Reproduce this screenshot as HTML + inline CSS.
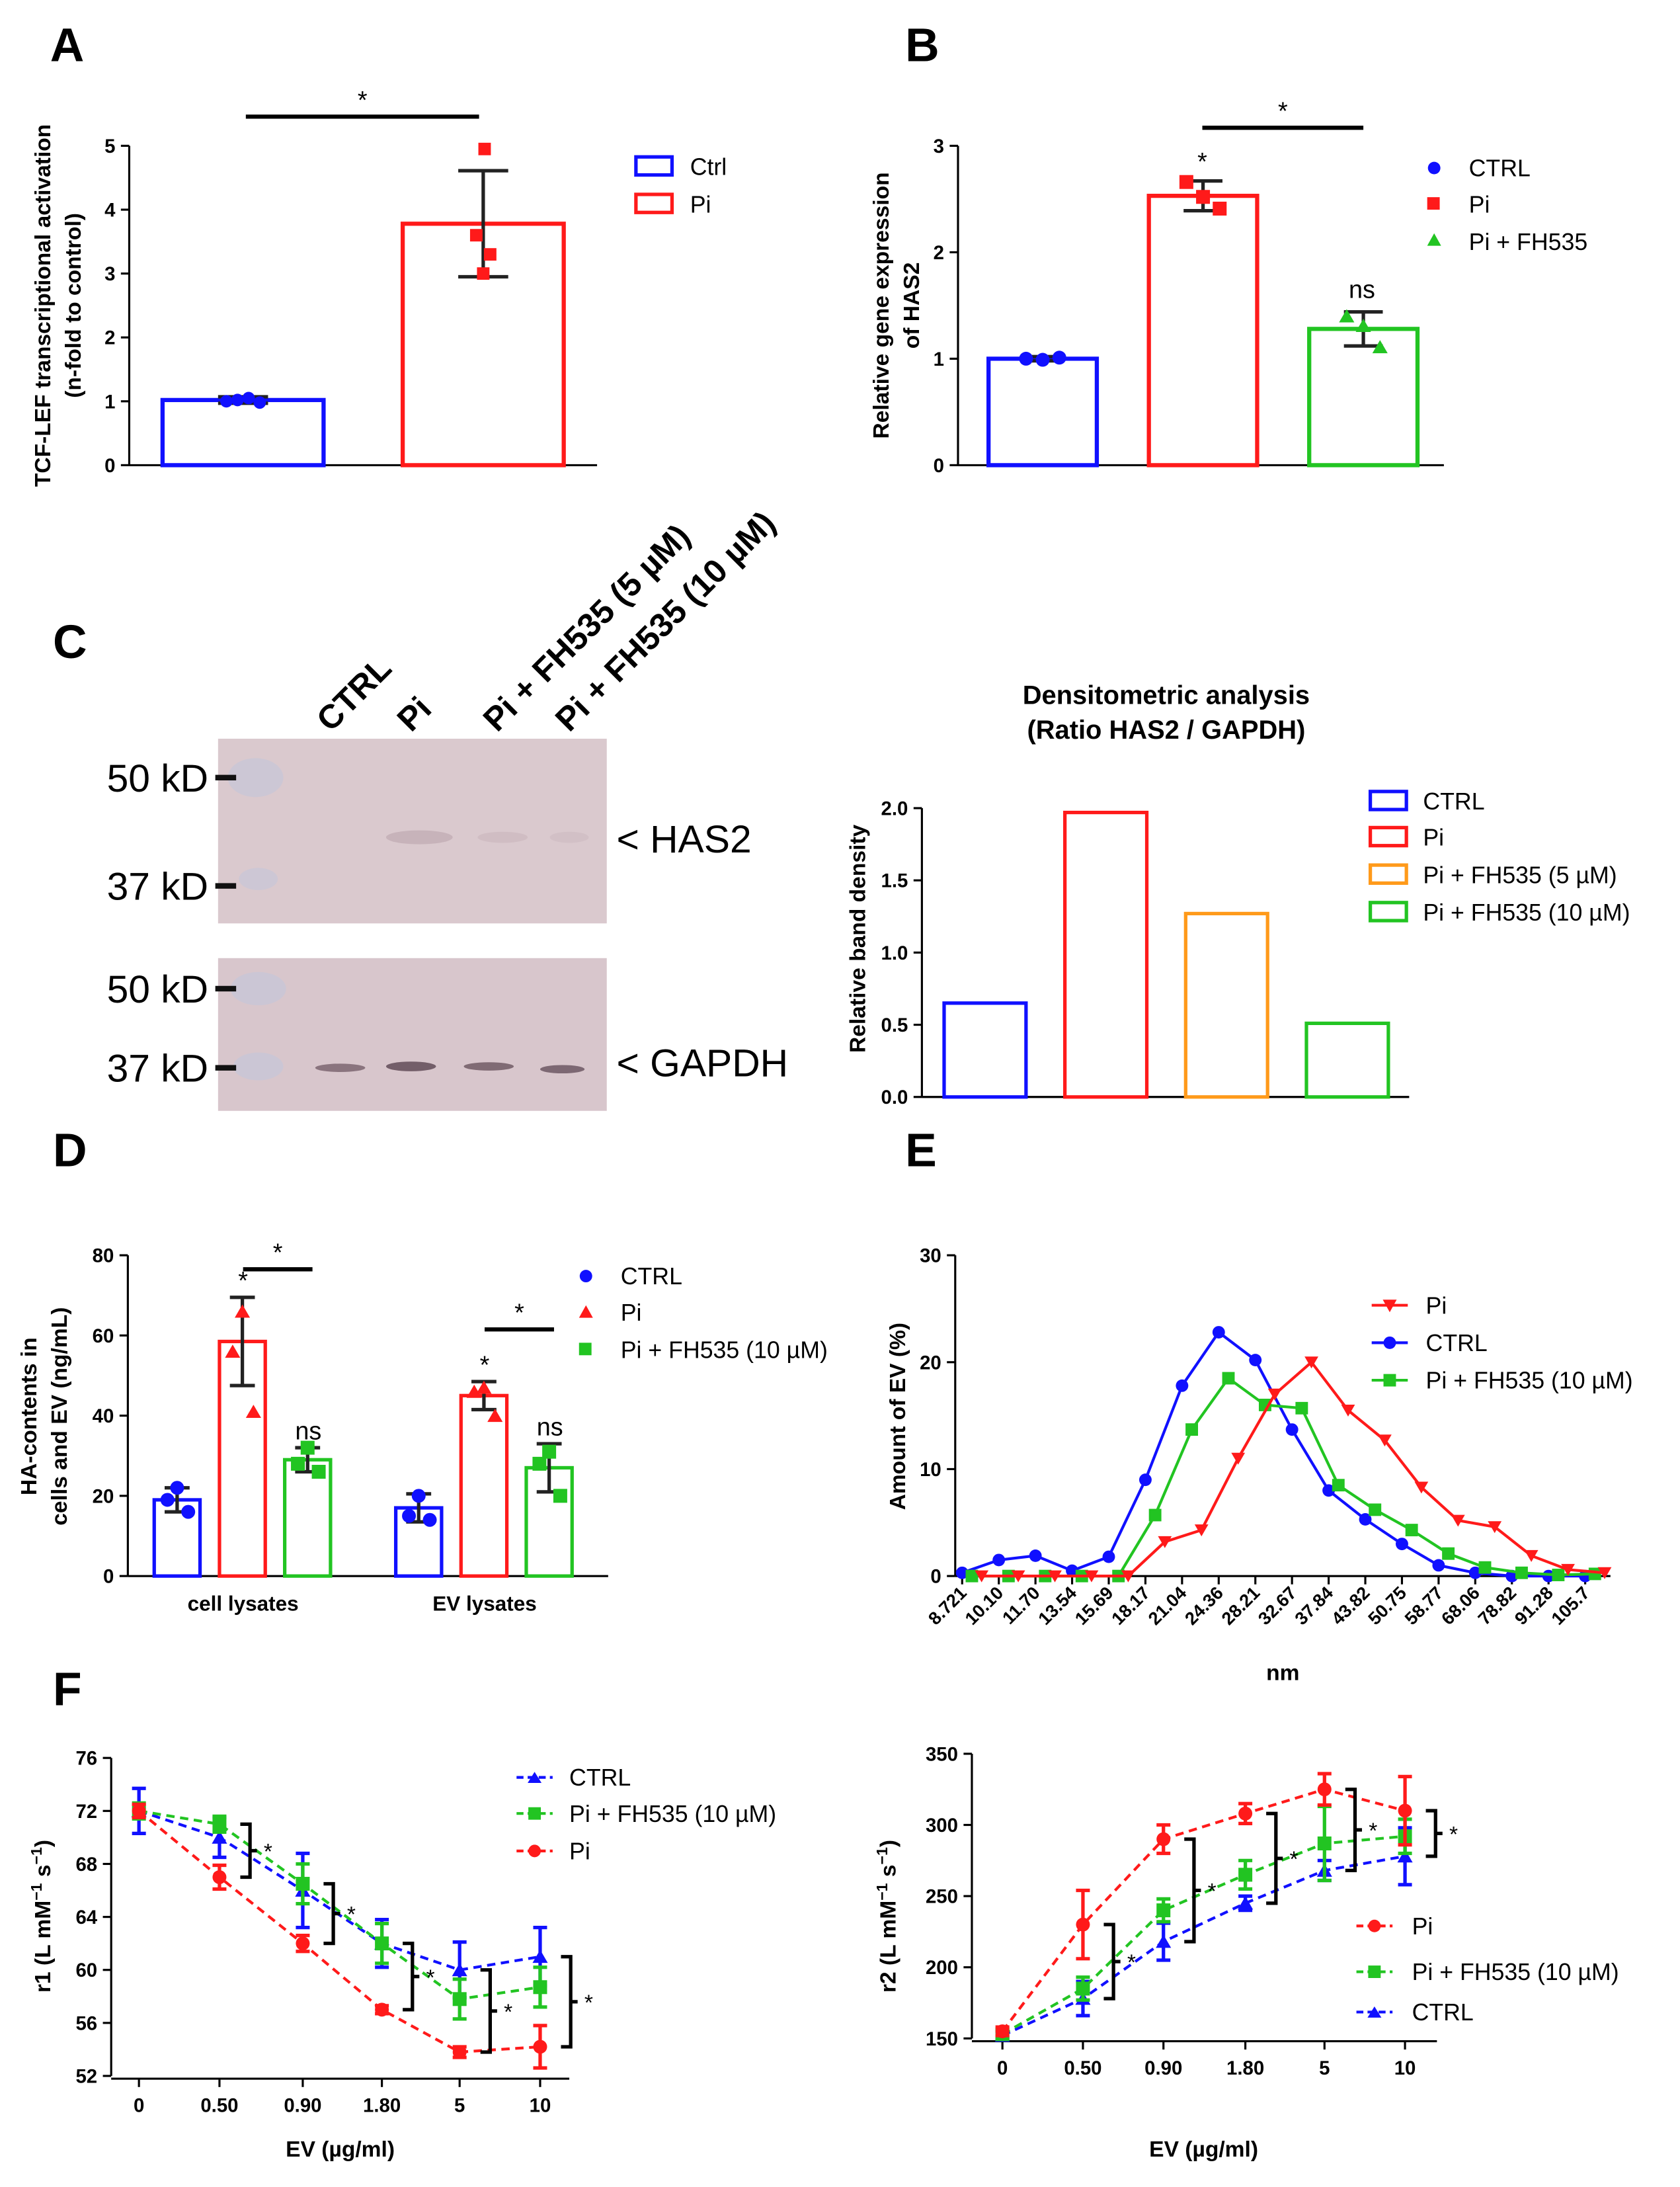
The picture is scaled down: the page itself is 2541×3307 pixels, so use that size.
<!DOCTYPE html>
<html><head><meta charset="utf-8"><style>
html,body{margin:0;padding:0;background:#fff}
svg{display:block;font-family:"Liberation Sans",Arial,sans-serif}
</style></head><body>
<svg id="fig" width="2541" height="3307" viewBox="0 0 1210 1575" xmlns="http://www.w3.org/2000/svg">
<rect width="1210" height="1575" fill="#fff"/>
<g font-weight="bold" font-size="34">
<text x="36" y="44">A</text>
<text x="652" y="44">B</text>
<text x="38" y="474">C</text>
<text x="38" y="840">D</text>
<text x="652" y="840">E</text>
<text x="38" y="1228">F</text>
</g>
<g font-size="16" font-weight="bold">
<text transform="translate(36,220) rotate(-90)" text-anchor="middle">TCF-LEF transcriptional activation</text>
<text transform="translate(58,220) rotate(-90)" text-anchor="middle">(n-fold to control)</text>
</g>
<g font-size="17">
<rect x="458" y="113" width="26" height="13" fill="none" stroke="#1010ff" stroke-width="2.5"/>
<text x="497" y="126">Ctrl</text>
<rect x="458" y="140" width="26" height="13" fill="none" stroke="#ff1a1a" stroke-width="2.5"/>
<text x="497" y="153">Pi</text>
</g>
<g font-size="16" font-weight="bold">
<text transform="translate(640,220) rotate(-90)" text-anchor="middle">Relative gene expression</text>
<text transform="translate(662,220) rotate(-90)" text-anchor="middle">of HAS2</text>
</g>
<g font-size="17">
<circle cx="1033" cy="121" r="4.5" fill="#1010ff"/><text x="1058" y="127">CTRL</text>
<rect x="1028" y="142" width="9" height="9" fill="#ff1a1a"/><text x="1058" y="153">Pi</text>
<path d="M1033,168 L1038,177 L1028,177Z" fill="#22c422"/><text x="1058" y="180">Pi + FH535</text>
</g>
<g>
<rect x="157" y="532" width="280" height="133" fill="#dac9ce"/>
<rect x="157" y="690" width="280" height="110" fill="#d8c6cc"/>
<ellipse cx="184" cy="560" rx="20" ry="14" fill="#c6c6d8" opacity=".7"/>
<ellipse cx="186" cy="633" rx="14" ry="8" fill="#c8c6d8" opacity=".7"/>
<ellipse cx="186" cy="712" rx="20" ry="12" fill="#c6c6d8" opacity=".7"/>
<ellipse cx="186" cy="768" rx="18" ry="10" fill="#c6c6d8" opacity=".7"/>
<ellipse cx="302" cy="603" rx="24" ry="5" fill="#c7b3ba"/>
<ellipse cx="362" cy="603" rx="18" ry="4" fill="#d0bdc3"/>
<ellipse cx="410" cy="603" rx="14" ry="4" fill="#d2c0c6"/>
<ellipse cx="245" cy="769" rx="18" ry="3" fill="#8a747e"/>
<ellipse cx="296" cy="768" rx="18" ry="3.5" fill="#735e69"/>
<ellipse cx="352" cy="768" rx="18" ry="3" fill="#806b74"/>
<ellipse cx="405" cy="770" rx="16" ry="3" fill="#7d6873"/>
<g fill="#111"><rect x="155" y="558" width="15" height="4"/><rect x="155" y="636" width="15" height="4"/><rect x="155" y="710" width="15" height="4"/><rect x="155" y="767" width="15" height="4"/></g>
<g font-size="28" text-anchor="end">
<text x="150" y="570">50 kD</text>
<text x="150" y="648">37 kD</text>
<text x="150" y="722">50 kD</text>
<text x="150" y="779">37 kD</text>
</g>
<g font-size="28">
<text x="444" y="614">&lt; HAS2</text>
<text x="444" y="775">&lt; GAPDH</text>
</g>
<g font-size="24" font-weight="bold">
<text transform="translate(238,528) rotate(-45)">CTRL</text>
<text transform="translate(296,528) rotate(-45)">Pi</text>
<text transform="translate(358,528) rotate(-45)">Pi + FH535 (5 µM)</text>
<text transform="translate(410,528) rotate(-45)">Pi + FH535 (10 µM)</text>
</g>
</g>
<g font-size="19" font-weight="bold" text-anchor="middle">
<text x="840" y="507">Densitometric analysis</text>
<text x="840" y="532">(Ratio HAS2 / GAPDH)</text>
</g>
<text transform="translate(623,676) rotate(-90)" font-size="16" font-weight="bold" text-anchor="middle">Relative band density</text>
<g font-size="17">
<rect x="987" y="570" width="26" height="13" fill="none" stroke="#1010ff" stroke-width="2.5"/><text x="1025" y="583">CTRL</text>
<rect x="987" y="596" width="26" height="13" fill="none" stroke="#ff1a1a" stroke-width="2.5"/><text x="1025" y="609">Pi</text>
<rect x="987" y="623" width="26" height="13" fill="none" stroke="#ff9a1a" stroke-width="2.5"/><text x="1025" y="636">Pi + FH535 (5 µM)</text>
<rect x="987" y="650" width="26" height="13" fill="none" stroke="#22c422" stroke-width="2.5"/><text x="1025" y="663">Pi + FH535 (10 µM)</text>
</g>
<g font-size="16" font-weight="bold">
<text transform="translate(26,1020) rotate(-90)" text-anchor="middle">HA-contents in</text>
<text transform="translate(48,1020) rotate(-90)" text-anchor="middle">cells and EV (ng/mL)</text>
</g>
<g font-size="17">
<circle cx="422" cy="919" r="4.5" fill="#1010ff"/><text x="447" y="925">CTRL</text>
<path d="M422,940 L427,949 L417,949Z" fill="#ff1a1a"/><text x="447" y="951">Pi</text>
<rect x="417" y="967" width="9" height="9" fill="#22c422"/><text x="447" y="978">Pi + FH535 (10 µM)</text>
</g>
<text transform="translate(652,1020) rotate(-90)" font-size="16" font-weight="bold" text-anchor="middle">Amount of EV (%)</text>
<text x="924" y="1210" font-size="16" font-weight="bold" text-anchor="middle">nm</text>
<g font-size="17">
<line x1="988" y1="940" x2="1014" y2="940" stroke="#ff1a1a" stroke-width="2"/><path d="M996,936 L1006,936 L1001,945Z" fill="#ff1a1a"/><text x="1027" y="946">Pi</text>
<line x1="988" y1="967" x2="1014" y2="967" stroke="#1010ff" stroke-width="2"/><circle cx="1001" cy="967" r="4.5" fill="#1010ff"/><text x="1027" y="973">CTRL</text>
<line x1="988" y1="994" x2="1014" y2="994" stroke="#22c422" stroke-width="2"/><rect x="996.5" y="989.5" width="9" height="9" fill="#22c422"/><text x="1027" y="1000">Pi + FH535 (10 µM)</text>
</g>
<text transform="translate(36,1380) rotate(-90)" font-size="16" font-weight="bold" text-anchor="middle">r1 (L mM<tspan dy="-6" font-size="11">−1</tspan><tspan dy="6"> s</tspan><tspan dy="-6" font-size="11">−1</tspan><tspan dy="6">)</tspan></text>
<text x="245" y="1553" font-size="16" font-weight="bold" text-anchor="middle">EV (µg/ml)</text>
<text transform="translate(645,1380) rotate(-90)" font-size="16" font-weight="bold" text-anchor="middle">r2 (L mM<tspan dy="-6" font-size="11">−1</tspan><tspan dy="6"> s</tspan><tspan dy="-6" font-size="11">−1</tspan><tspan dy="6">)</tspan></text>
<text x="867" y="1553" font-size="16" font-weight="bold" text-anchor="middle">EV (µg/ml)</text>
<g font-size="17">
<line x1="372" y1="1280" x2="398" y2="1280" stroke="#1010ff" stroke-width="2" stroke-dasharray="5,3"/><path d="M385,1276 L390,1284 L380,1284Z" fill="#1010ff"/><text x="410" y="1286">CTRL</text>
<line x1="372" y1="1306" x2="398" y2="1306" stroke="#22c422" stroke-width="2" stroke-dasharray="5,3"/><rect x="380.5" y="1301.5" width="9" height="9" fill="#22c422"/><text x="410" y="1312">Pi + FH535 (10 µM)</text>
<line x1="372" y1="1333" x2="398" y2="1333" stroke="#ff1a1a" stroke-width="2" stroke-dasharray="5,3"/><circle cx="385" cy="1333" r="4.5" fill="#ff1a1a"/><text x="410" y="1339">Pi</text>
</g>
<g font-size="17">
<line x1="977" y1="1387" x2="1003" y2="1387" stroke="#ff1a1a" stroke-width="2" stroke-dasharray="5,3"/><circle cx="990" cy="1387" r="4.5" fill="#ff1a1a"/><text x="1017" y="1393">Pi</text>
<line x1="977" y1="1420" x2="1003" y2="1420" stroke="#22c422" stroke-width="2" stroke-dasharray="5,3"/><rect x="985.5" y="1415.5" width="9" height="9" fill="#22c422"/><text x="1017" y="1426">Pi + FH535 (10 µM)</text>
<line x1="977" y1="1449" x2="1003" y2="1449" stroke="#1010ff" stroke-width="2" stroke-dasharray="5,3"/><path d="M990,1445 L995,1453 L985,1453Z" fill="#1010ff"/><text x="1017" y="1455">CTRL</text>
</g>
<g id="dyn"></g>
</svg>
<script>
const aCats=['Ctrl','Pi'];
const aMeans=[1.02,3.78];
const aSD=[0.05,0.83];
const aPts=[[1.0,1.02,1.05,0.98],[4.95,3.6,3.3,3.0]];
const aTicks=[0,1,2,3,4,5];
const bCats=['CTRL','Pi','Pi + FH535'];
const bMeans=[1.0,2.53,1.28];
const bSD=[0.02,0.14,0.16];
const bPts=[[1.0,0.99,1.01],[2.66,2.52,2.41],[1.4,1.31,1.11]];
const bTicks=[0,1,2,3];
const cCats=['CTRL','Pi','Pi + FH535 (5 µM)','Pi + FH535 (10 µM)'];
const cVals=[0.65,1.97,1.27,0.51];
const cTicks=[0,0.5,1.0,1.5,2.0];
const dGroups=['cell lysates','EV lysates'];
const dMeans=[[19,58.5,29],[17,45,27]];
const dSD=[[3,11,3],[3.5,3.5,6]];
const dPts=[[[22,19,16],[66,56,41],[32,28,26]],[[20,15,14],[47,46,40],[31,28,20]]];
const dTicks=[0,20,40,60,80];
const eCats=['8.721','10.10','11.70','13.54','15.69','18.17','21.04','24.36','28.21','32.67','37.84','43.82','50.75','58.77','68.06','78.82','91.28','105.7'];
const ePi=[0,0,0,0,0,3.2,4.3,11,17,20,15.5,12.7,8.3,5.2,4.6,1.9,0.6,0.3];
const eCtrl=[0.3,1.5,1.9,0.5,1.8,9,17.8,22.8,20.2,13.7,8,5.3,3,1,0.3,0,0,0];
const eFH=[0,0,0,0,0,5.7,13.7,18.5,16,15.7,8.5,6.2,4.3,2.1,0.8,0.3,0.1,0.2];
const eTicks=[0,10,20,30];
const fCats=['0','0.50','0.90','1.80','5','10'];
const f1Ctrl=[72,70,66,62,60,61];
const f1CtrlSD=[1.7,1.5,2.8,1.8,2.1,2.2];
const f1FH=[72,71,66.5,62,57.8,58.7];
const f1FHSD=[0.6,0.6,1.5,1.5,1.5,1.5];
const f1Pi=[72,67,62,57,53.8,54.2];
const f1PiSD=[0.5,0.9,0.6,0.3,0.4,1.6];
const f1Ticks=[52,56,60,64,68,72,76];
const f2Pi=[155,230,290,308,325,310];
const f2PiSD=[3,24,10,7,11,24];
const f2FH=[153,185,240,265,287,292];
const f2FHSD=[3,8,8,10,26,12];
const f2Ctrl=[152,178,218,245,268,278];
const f2CtrlSD=[3,12,13,5,7,20];
const f2Ticks=[150,200,250,300,350];

const NS='http://www.w3.org/2000/svg';
const root=document.getElementById('dyn');
function mk(tag,at,p){const e=document.createElementNS(NS,tag);for(const k in at)e.setAttribute(k,at[k]);(p||root).appendChild(e);return e;}
function lin(v0,v1,p0,p1){return v=>p0+(v-v0)*(p1-p0)/(v1-v0);}
function yAxis(x,y,ticks,fmt,name){
  const ax=mk('line',{x1:x,x2:x,y1:y(ticks[0]),y2:y(ticks[ticks.length-1]),stroke:'#000','stroke-width':1.5});
  
  
  ticks.forEach(t=>{
    mk('line',{x1:x-6,x2:x,y1:y(t),y2:y(t),stroke:'#000','stroke-width':1.5});
    const tx=mk('text',{x:x-10,y:y(t)+5,'font-size':14,'text-anchor':'end','font-weight':'bold'});
    tx.textContent=fmt(t);
    
    
  });
}
function marker(type,cx,cy,col,r){
  r=r||4.5;
  if(type==='c')return mk('circle',{cx:cx,cy:cy,r:r,fill:col});
  if(type==='s')return mk('rect',{x:cx-r,y:cy-r,width:2*r,height:2*r,fill:col});
  if(type==='t')return mk('path',{d:`M${cx},${cy-r} L${cx+r*1.1},${cy+r*0.9} L${cx-r*1.1},${cy+r*0.9}Z`,fill:col});
  return mk('path',{d:`M${cx},${cy+r} L${cx+r*1.1},${cy-r*0.9} L${cx-r*1.1},${cy-r*0.9}Z`,fill:col});
}
function errBar(x,y,m,sd,col,w){
  mk('line',{x1:x,x2:x,y1:y(m-sd),y2:y(m+sd),stroke:col,'stroke-width':2.5});
  mk('line',{x1:x-w,x2:x+w,y1:y(m+sd),y2:y(m+sd),stroke:col,'stroke-width':2.5});
  mk('line',{x1:x-w,x2:x+w,y1:y(m-sd),y2:y(m-sd),stroke:col,'stroke-width':2.5});
}
function sig(x1,x2,yy,lab){
  mk('line',{x1:x1,x2:x2,y1:yy,y2:yy,stroke:'#000','stroke-width':3});
  const t=mk('text',{x:(x1+x2)/2,y:yy-6,'font-size':18,'text-anchor':'middle'});t.textContent=lab;
  
  
}
function txt(x,yy,s,size,name){const t=mk('text',{x:x,y:yy,'font-size':size,'text-anchor':'middle'});t.textContent=s;
  
  return t;}

(function(){
  const y=lin(0,5,335,105);const cols=['#1010ff','#ff1a1a'];
  yAxis(93,y,aTicks,String,'a');
  mk('line',{x1:93,x2:430,y1:335,y2:335,stroke:'#000','stroke-width':1.5});
  const offs=[[-12,-4,4,12],[1,-5,5,0]];
  aCats.forEach((c,i)=>{
    const x=117+i*173,w=116,cx=x+w/2;
    const b=mk('rect',{x:x,y:y(aMeans[i]),width:w,height:335-y(aMeans[i]),fill:'none',stroke:cols[i],'stroke-width':3});
    
    
    errBar(cx,y,aMeans[i],aSD[i],'#222',18);
    aPts[i].forEach((v,j)=>marker(i?'s':'c',cx+offs[i][j],y(v),cols[i],4.5));
  });
  sig(177,345,84,'*');
})();
(function(){
  const y=lin(0,3,335,105);const cols=['#1010ff','#ff1a1a','#22c422'];const mt=['c','s','t'];
  yAxis(690,y,bTicks,String,'b');
  mk('line',{x1:690,x2:1040,y1:335,y2:335,stroke:'#000','stroke-width':1.5});
  bCats.forEach((c,i)=>{
    const x=712+i*115.5,w=78,cx=x+w/2;
    const b=mk('rect',{x:x,y:y(bMeans[i]),width:w,height:335-y(bMeans[i]),fill:'none',stroke:cols[i],'stroke-width':3});
    
    
    errBar(cx,y,bMeans[i],bSD[i],'#222',14);
    bPts[i].forEach((v,j)=>marker(mt[i],cx-12+j*12,y(v),cols[i],5));
  });
  txt(866,y(bMeans[1]+bSD[1])-8,'*',18,'b-pi-star');
  txt(981,y(bMeans[2]+bSD[2])-10,'ns',18,'b-fh-ns');
  sig(866,982,92,'*');
})();
(function(){
  const y=lin(0,2,790,582);const cols=['#1010ff','#ff1a1a','#ff9a1a','#22c422'];
  yAxis(664,y,cTicks,v=>v.toFixed(1),'c');
  mk('line',{x1:664,x2:1015,y1:790,y2:790,stroke:'#000','stroke-width':1.5});
  cCats.forEach((c,i)=>{
    const x=680+i*87,w=59;
    const b=mk('rect',{x:x,y:y(cVals[i]),width:w,height:790-y(cVals[i]),fill:'none',stroke:cols[i],'stroke-width':2.5});
    
    
  });
})();
(function(){
  const y=lin(0,80,1135,904);const cols=['#1010ff','#ff1a1a','#22c422'];const mt=['c','t','s'];
  yAxis(92,y,dTicks,String,'d');
  mk('line',{x1:92,x2:438,y1:1135,y2:1135,stroke:'#000','stroke-width':1.5});
  dGroups.forEach((g,gi)=>{
    const gx=111+gi*174;
    dMeans[gi].forEach((m,i)=>{
      const x=gx+i*47,w=33,cx=x+w/2;
      const b=mk('rect',{x:x,y:y(m),width:w,height:1135-y(m),fill:'none',stroke:cols[i],'stroke-width':2.5});
      
      
      errBar(cx,y,m,dSD[gi][i],'#222',9);
      dPts[gi][i].forEach((v,j)=>marker(mt[i],cx+[0,-7,8][j],y(v),cols[i],5));
    });
    txt(gx+64,1160,g,15,'d-x-label').setAttribute('font-weight','bold');
    txt(gx+64,y(dMeans[gi][1]+dSD[gi][1])-6,'*',18,'d-pi-star');
    txt(gx+111,y(dMeans[gi][2]+dSD[gi][2])-6,'ns',18,'d-ns');
    sig(gx+64,gx+114,y(Math.max(dMeans[gi][1]+dSD[gi][1],dMeans[gi][2]+dSD[gi][2])+ (gi?13:7)),'*');
  });
})();
(function(){
  const y=lin(0,30,1135,904);const x=i=>693+i*26.4;
  yAxis(688,y,eTicks,String,'e');
  mk('line',{x1:688,x2:1160,y1:1135,y2:1135,stroke:'#000','stroke-width':1.5});
  eCats.forEach((c,i)=>{
    mk('line',{x1:x(i),x2:x(i),y1:1135,y2:1141,stroke:'#000','stroke-width':1.5});
    const t=mk('text',{transform:`translate(${x(i)+4},${1148}) rotate(-45)`,'font-size':13,'font-weight':'bold','text-anchor':'end'});
    t.textContent=c;
    
    
  });
  [[eCtrl,'#1010ff','c'],[eFH,'#22c422','s'],[ePi,'#ff1a1a','v']].forEach(([d,col,m],si)=>{
    const off=si==2?14:(si==1?7:0);
    const p=mk('polyline',{points:d.map((v,i)=>(x(i)+off)+','+y(v)).join(' '),fill:'none',stroke:col,'stroke-width':2});
    
    
    d.forEach((v,i)=>marker(m,x(i)+off,y(v),col,4.5));
  });
})();
function fPanel(x0,xs,y,ticks,series,name,xEnd,brOff){
  yAxis(x0,y,ticks,String,name);
  mk('line',{x1:x0,x2:xEnd,y1:y(ticks[0])+2,y2:y(ticks[0])+2,stroke:'#000','stroke-width':1.5});
  fCats.forEach((c,i)=>{
    mk('line',{x1:xs(i),x2:xs(i),y1:y(ticks[0])+2,y2:y(ticks[0])+8,stroke:'#000','stroke-width':1.5});
    const t=txt(xs(i),y(ticks[0])+26,c,14,name+'-x-tick-label');t.setAttribute('font-weight','bold');
  });
  series.forEach(([d,sd,col,m],si)=>{
    const p=mk('polyline',{points:d.map((v,i)=>xs(i)+','+y(v)).join(' '),fill:'none',stroke:col,'stroke-width':2,'stroke-dasharray':'6,4'});
    
    
    d.forEach((v,i)=>{errBar(xs(i),y,v,sd[i],col,5);marker(m,xs(i),y(v),col,5);});
  });
  for(let i=1;i<fCats.length;i++){
    const vs=series.map(s=>s[0][i]);const a=y(Math.max(...vs)),b=y(Math.min(...vs));
    const bx=xs(i)+brOff;
    mk('path',{d:`M${bx-7},${a} L${bx},${a} L${bx},${b} L${bx-7},${b} M${bx},${(a+b)/2} L${bx+5},${(a+b)/2}`,fill:'none',stroke:'#000','stroke-width':2.5});
    txt(bx+13,(a+b)/2+6,'*',16,name+'-bracket-star');
  }
}
fPanel(80,i=>100+[0,58,118,175,231,289][i],lin(52,76,1495,1266),f1Ticks,
  [[f1Ctrl,f1CtrlSD,'#1010ff','t'],[f1FH,f1FHSD,'#22c422','s'],[f1Pi,f1PiSD,'#ff1a1a','c']],'f1',410,22);
fPanel(700,i=>722+[0,58,116,175,232,290][i],lin(150,350,1468,1263),f2Ticks,
  [[f2Ctrl,f2CtrlSD,'#1010ff','t'],[f2FH,f2FHSD,'#22c422','s'],[f2Pi,f2PiSD,'#ff1a1a','c']],'f2',1035,22);
</script>
</body></html>
